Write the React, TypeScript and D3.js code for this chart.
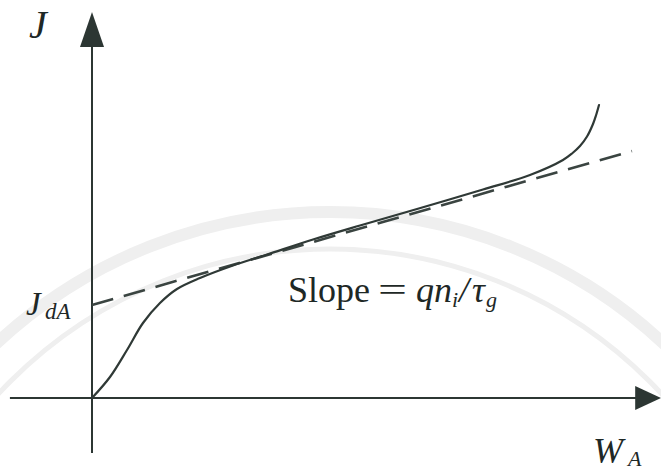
import React from "react";
import * as d3 from "d3";

// Current density J versus base width W_A
const widthW = [0, 0.333, 0.648, 0.944, 1.259, 1.574, 2.0, 2.611, 3.241, 4.093, 4.963, 6.019, 7.241, 8.111, 8.722, 8.889, 9.037, 9.167, 9.278, 9.333, 9.389];
const densityJ = [0, 2.1, 4.8, 7.5, 9.5, 10.9, 12.0, 13.25, 14.35, 15.85, 17.25, 18.9, 20.85, 22.3, 23.8, 24.45, 25.2, 26.15, 27.4, 28.25, 29.3];

// Linear asymptote: intercept J_dA, slope q n_i / tau_g
const tangentW = [0, 10];
const tangentJ = [9.3, 24.7];

const axisW = [-1.52, 10.54];
const axisJ = [-5.5, 38.6];

const W = 661;
const H = 473;

export default function App() {
  const x = d3.scaleLinear().domain([0, 10]).range([92, 632]);
  const y = d3.scaleLinear().domain([0, 10]).range([398, 298]);

  const curve = d3
    .line<number>()
    .x((_, i) => x(widthW[i]))
    .y((d) => y(d))
    .curve(d3.curveCatmullRom.alpha(0.5))(densityJ) as string;

  const tangent = d3
    .line<number>()
    .x((_, i) => x(tangentW[i]))
    .y((d) => y(d))(tangentJ) as string;

  const ink = "#2c3633";
  const x0 = x(0);
  const y0 = y(0);
  const xTip = x(axisW[1]);
  const yTip = y(axisJ[1]);
  const arrowLen = 26;
  const arrowHalf = 12;

  const serif = "'Liberation Serif', 'DejaVu Serif', serif";

  return (
    <svg
      width={W}
      height={H}
      viewBox={`0 0 ${W} ${H}`}
      style={{ position: "absolute", left: 0, top: 0, background: "#fff" }}
    >
      {/* faint background seal */}
      <g fill="none" stroke="#efefef">
        <circle cx={330} cy={701} r={489} strokeWidth={12} />
        <circle cx={330} cy={701} r={452} strokeWidth={5} />
      </g>

      {/* axes */}
      <line x1={x(axisW[0])} y1={y0} x2={xTip - arrowLen + 2} y2={y0} stroke={ink} strokeWidth={2} />
      <line x1={x0} y1={y(axisJ[0])} x2={x0} y2={yTip + arrowLen + 4} stroke={ink} strokeWidth={2} />
      <path
        d={`M${xTip},${y0} L${xTip - arrowLen},${y0 - arrowHalf} L${xTip - arrowLen},${y0 + arrowHalf} Z`}
        fill={ink}
      />
      <path
        d={`M${x0},${yTip} L${x0 - arrowHalf},${yTip + arrowLen + 9} L${x0 + arrowHalf},${yTip + arrowLen + 9} Z`}
        fill={ink}
      />

      {/* asymptote */}
      <path d={tangent} fill="none" stroke="#3a4441" strokeWidth={2.6} strokeDasharray="22 11" />

      {/* J(W_A) curve */}
      <path d={curve} fill="none" stroke="#2f3936" strokeWidth={2.2} strokeLinecap="round" />

      {/* labels */}
      <g fontFamily={serif} fill="#1e2826">
        <text x={29} y={38} fontSize={40} fontStyle="italic">J</text>

        <text x={26} y={315} fontSize={33} fontStyle="italic">J</text>
        <text x={45} y={319} fontSize={23} fontStyle="italic">dA</text>

        <text x={593} y={463} fontSize={36} fontStyle="italic">W</text>
        <text x={628} y={466} fontSize={22} fontStyle="italic">A</text>

        <text x={288} y={302} fontSize={36}>Slope</text>
        <text x={378} y={301} fontSize={34} textLength={29} lengthAdjust="spacingAndGlyphs">=</text>
        <text x={416} y={302} fontSize={36} fontStyle="italic">qn</text>
        <text x={452} y={307} fontSize={22} fontStyle="italic">i</text>
        <text x={459} y={302} fontSize={36} fontStyle="italic">/</text>
        <text x={472} y={302} fontSize={36} fontStyle="italic">
          τ
          <tspan fontSize={22} dy={5} dx={1}>g</tspan>
        </text>
      </g>
    </svg>
  );
}
